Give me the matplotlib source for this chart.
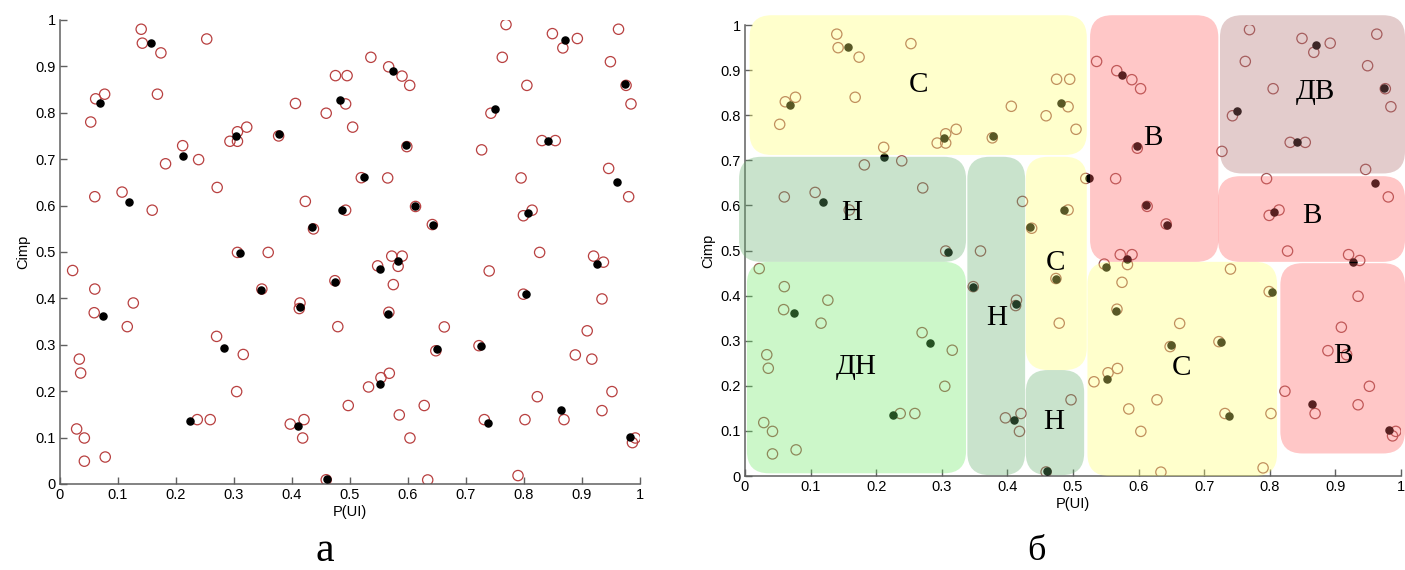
import matplotlib
matplotlib.use("Agg")
from matplotlib import pyplot as plt
from matplotlib.patches import FancyBboxPatch
import numpy as np

# open (red) circles
open_x = [0.140, 0.142, 0.174, 0.253, 0.0615, 0.077, 0.053, 0.168, 0.2115, 0.182,
          0.239, 0.271, 0.060, 0.107, 0.159, 0.293, 0.306, 0.306, 0.322, 0.377,
          0.406, 0.459, 0.475, 0.495, 0.4925, 0.5046, 0.423, 0.437, 0.4925, 0.306,
          0.359, 0.536, 0.5667, 0.5897, 0.603, 0.598, 0.5195, 0.565, 0.613, 0.642,
          0.572, 0.590, 0.769, 0.7626, 0.849, 0.892, 0.867, 0.963, 0.949, 0.976,
          0.9845, 0.805, 0.743, 0.727, 0.831, 0.854, 0.946, 0.9805, 0.795, 0.799,
          0.814, 0.827, 0.920, 0.937,
          0.0218, 0.060, 0.059, 0.1264, 0.116, 0.0333, 0.0356, 0.0287, 0.042, 0.042,
          0.078, 0.348, 0.270, 0.316, 0.3046, 0.2367, 0.259, 0.4138, 0.4126, 0.474,
          0.479, 0.397, 0.4207, 0.4184, 0.459, 0.497, 0.5477, 0.583, 0.5747, 0.567,
          0.6626, 0.648, 0.7224, 0.740, 0.799, 0.9345, 0.909, 0.8885, 0.917, 0.9517,
          0.9345, 0.869, 0.823, 0.8017, 0.7316, 0.5678, 0.5534, 0.532, 0.585, 0.628,
          0.6034, 0.634, 0.7897, 0.992, 0.987]
open_y = [0.980, 0.950, 0.929, 0.959, 0.830, 0.840, 0.780, 0.840, 0.729, 0.690,
          0.699, 0.639, 0.619, 0.629, 0.590, 0.7385, 0.759, 0.7385, 0.769, 0.750,
          0.820, 0.799, 0.880, 0.880, 0.819, 0.769, 0.609, 0.5496, 0.590, 0.499,
          0.499, 0.9195, 0.899, 0.879, 0.859, 0.727, 0.660, 0.6595, 0.598, 0.559,
          0.491, 0.491, 0.990, 0.9195, 0.9705, 0.960, 0.9397, 0.980, 0.910, 0.859,
          0.819, 0.859, 0.799, 0.720, 0.740, 0.740, 0.680, 0.619, 0.6595, 0.578,
          0.590, 0.499, 0.491, 0.478,
          0.460, 0.420, 0.369, 0.390, 0.339, 0.269, 0.239, 0.1185, 0.099, 0.049,
          0.058, 0.420, 0.318, 0.279, 0.199, 0.1386, 0.1386, 0.390, 0.378, 0.438,
          0.339, 0.129, 0.1386, 0.099, 0.009, 0.169, 0.470, 0.469, 0.4296, 0.370,
          0.3384, 0.287, 0.298, 0.459, 0.409, 0.3987, 0.330, 0.278, 0.269, 0.199,
          0.158, 0.1386, 0.188, 0.1386, 0.1386, 0.2385, 0.229, 0.209, 0.1487, 0.169,
          0.099, 0.0086, 0.018, 0.099, 0.089]

# black dots
dot_x = [0.157, 0.069, 0.2126, 0.1195, 0.304, 0.378, 0.482, 0.434, 0.487, 0.310,
         0.574, 0.597, 0.525, 0.612, 0.643, 0.582, 0.870, 0.974, 0.750, 0.841,
         0.960, 0.807, 0.0747, 0.347, 0.282, 0.225, 0.413, 0.474, 0.410, 0.460,
         0.551, 0.5655, 0.650, 0.726, 0.926, 0.803, 0.864, 0.738, 0.552, 0.982]
dot_y = [0.951, 0.822, 0.707, 0.608, 0.750, 0.754, 0.828, 0.553, 0.590, 0.497,
         0.890, 0.731, 0.661, 0.600, 0.5575, 0.481, 0.956, 0.861, 0.809, 0.740,
         0.650, 0.585, 0.361, 0.419, 0.294, 0.136, 0.3815, 0.436, 0.124, 0.011,
         0.464, 0.367, 0.291, 0.297, 0.475, 0.409, 0.160, 0.132, 0.215, 0.102]

# zones of panel b: label, x range, y range, label position
zone_labels = ["С", "Н", "ДН", "Н", "С", "Н", "С", "В", "ДВ", "В", "В"]
zone_x = [(0.007, 0.521), (-0.009, 0.337), (0.003, 0.337), (0.339, 0.427),
          (0.428, 0.521), (0.428, 0.517), (0.522, 0.811), (0.526, 0.7215),
          (0.724, 1.006), (0.721, 1.006), (0.816, 1.006)]
zone_y = [(0.712, 1.022), (0.475, 0.708), (0.006, 0.475), (0.002, 0.708),
          (0.235, 0.708), (0.002, 0.235), (0.0, 0.475), (0.475, 1.022),
          (0.671, 1.022), (0.475, 0.665), (0.050, 0.472)]
label_x = [0.264, 0.163, 0.169, 0.383, 0.473, 0.471, 0.665, 0.622, 0.869, 0.864, 0.912]
label_y = [0.867, 0.583, 0.242, 0.350, 0.472, 0.120, 0.239, 0.749, 0.851, 0.576, 0.266]
zone_colors = ["#ffff6e", "#66b06e", "#6eea66", "#66b06e", "#ffff6e", "#66b06e",
               "#ffff6e", "#ff5f5f", "#b06e6e", "#ff5f5f", "#ff5f5f"]

ticks = np.arange(0, 1.01, 0.1)
tick_labels = ["0", "0.1", "0.2", "0.3", "0.4", "0.5", "0.6", "0.7", "0.8", "0.9", "1"]


def style_axes(ax):
    ax.set_xlim(0, 1)
    ax.set_ylim(0, 1)
    ax.set_xticks(ticks)
    ax.set_yticks(ticks)
    ax.set_xticklabels(tick_labels)
    ax.set_yticklabels(tick_labels)
    for s in ["top", "right"]:
        ax.spines[s].set_visible(False)
    for s in ["left", "bottom"]:
        ax.spines[s].set_color("#606060")
        ax.spines[s].set_linewidth(1.1)
    ax.tick_params(direction="in", length=5, width=1, color="#606060",
                   labelsize=10.5, pad=3)
    for lab in ax.get_xticklabels() + ax.get_yticklabels():
        lab.set_family("Liberation Sans")
    ax.set_xlabel("P(UI)", family="Liberation Sans", fontsize=10.5, labelpad=2)
    ax.set_ylabel("Cimp", family="Liberation Sans", fontsize=10.5, labelpad=4)


fig = plt.figure(figsize=(14.05, 5.70), dpi=100)

# panel a
ax1 = fig.add_axes([0.0427, 0.151, 0.4128, 0.814])
ax1.scatter(open_x, open_y, s=55, facecolors="none", edgecolors="#b84040",
            linewidths=0.9, zorder=2)
ax1.scatter(dot_x, dot_y, s=26, color="black", zorder=3)
style_axes(ax1)

# panel b
ax2 = fig.add_axes([0.5302, 0.1649, 0.467, 0.791])
ax2.scatter(open_x, open_y, s=55, facecolors="none", edgecolors="#a05555",
            linewidths=0.9, zorder=2)
ax2.scatter(dot_x, dot_y, s=26, color="black", zorder=3)
rx = 22 / 656.0
ry = 22 / 451.0
for i in range(len(zone_labels)):
    x0, x1 = zone_x[i]
    y0, y1 = zone_y[i]
    p = FancyBboxPatch((x0, y0), x1 - x0, y1 - y0,
                       boxstyle="round,pad=0,rounding_size=%f" % rx,
                       mutation_aspect=ry / rx, facecolor=zone_colors[i],
                       edgecolor="none", alpha=0.35, zorder=4, clip_on=False)
    ax2.add_patch(p)
    ax2.text(label_x[i], label_y[i], zone_labels[i], family="Liberation Serif",
             fontsize=21, ha="center", va="center", zorder=5)
style_axes(ax2)

fig.text(0.2315, 0.016, "а", family="Liberation Serif", fontsize=30,
         ha="center", va="baseline")
fig.text(0.738, 0.017, "б", family="Liberation Serif", fontsize=26,
         ha="center", va="baseline")

fig.savefig("out.png", dpi=100)
